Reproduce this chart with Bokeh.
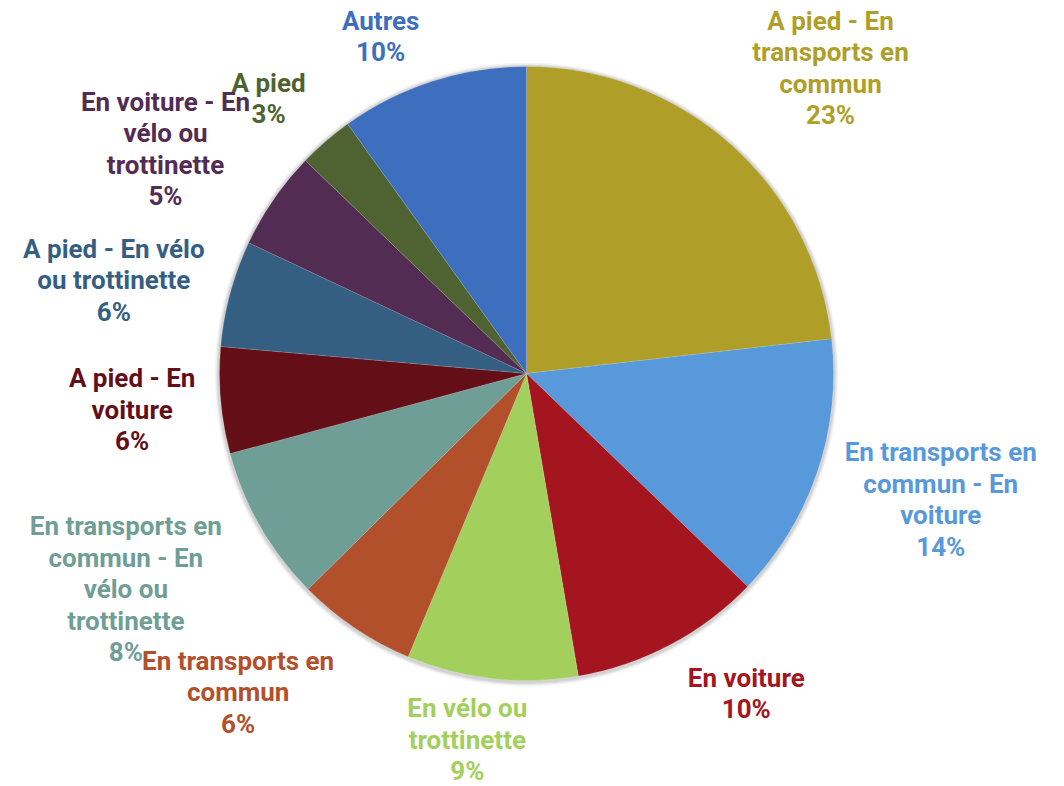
import math
from bokeh.plotting import figure
from bokeh.models import ColumnDataSource, Range1d
from bokeh.core.properties import value
from bokeh.embed import file_html
from bokeh.resources import INLINE

# ---- data ----
categories = [
    "A pied - En\ntransports en\ncommun",
    "En transports en\ncommun - En\nvoiture",
    "En voiture",
    "En vélo ou\ntrottinette",
    "En transports en\ncommun",
    "En transports en\ncommun - En\nvélo ou\ntrottinette",
    "A pied - En\nvoiture",
    "A pied - En vélo\nou trottinette",
    "En voiture - En\nvélo ou\ntrottinette",
    "A pied",
    "Autres",
]
shares = [23.2, 14.0, 10.1, 9.0, 6.3, 8.2, 5.6, 5.6, 5.2, 2.9, 9.9]
colors = ["#AF9F28", "#5799DA", "#A51520", "#A3CF5D", "#B2502C", "#6F9E97",
          "#640F18", "#355F82", "#532C54", "#4F6332", "#3E6FBE"]

# ---- layout (page pixels, y pointing up as negative page y) ----
W, H = 1064, 786
CX, CY, R = 526, -373, 307
label_dist = [431, 433, 388, 371, 430, 455, 396, 423, 425, 377, 367]
label_shift_deg = [3.1, -1.8, -6.6, 2.7, 8.1, 1.6, -0.2, -2.4, -2.7, -2.3, -5.6]

total = sum(shares)
starts, ends, lx, ly, texts = [], [], [], [], []
cum = 0.0
for i, v in enumerate(shares):
    a0 = cum / total * 2 * math.pi
    cum += v
    a1 = cum / total * 2 * math.pi
    # clockwise from 12 o'clock -> bokeh anticlockwise from +x
    starts.append(math.pi / 2 - a1)
    ends.append(math.pi / 2 - a0)
    mid = (a0 + a1) / 2 + math.radians(label_shift_deg[i])
    lx.append(CX + label_dist[i] * math.sin(mid))
    ly.append(CY + label_dist[i] * math.cos(mid))
    texts.append(f"{categories[i]}\n{round(v / total * 100)}%")

src = ColumnDataSource(dict(start=starts, end=ends, color=colors))
lab = ColumnDataSource(dict(x=lx, y=ly, text=texts, color=colors))

p = figure(width=W, height=H, output_backend="svg", toolbar_location=None,
           x_range=Range1d(0, W), y_range=Range1d(-H, 0),
           min_border=0, outline_line_color=None)
p.axis.visible = False
p.grid.visible = False
p.background_fill_color = "white"

# soft shadow
for k, a in [(5, 0.03), (4, 0.04), (3, 0.05), (2, 0.06)]:
    p.circle(x=CX, y=CY - 1, radius=R + k, fill_color="#000000", fill_alpha=a,
             line_color=None)

p.wedge(x=CX, y=CY, radius=R, start_angle="start", end_angle="end",
        fill_color="color", line_color="white", line_alpha=0.25, line_width=0.5,
        source=src)

p.text(x="x", y="y", text="text", source=lab, text_color="color",
       text_font=value("Roboto"), text_font_style="bold", text_font_size="26px",
       text_align="center", text_baseline="middle", text_line_height=1.05)

open("out.html", "w").write(file_html(p, INLINE))
